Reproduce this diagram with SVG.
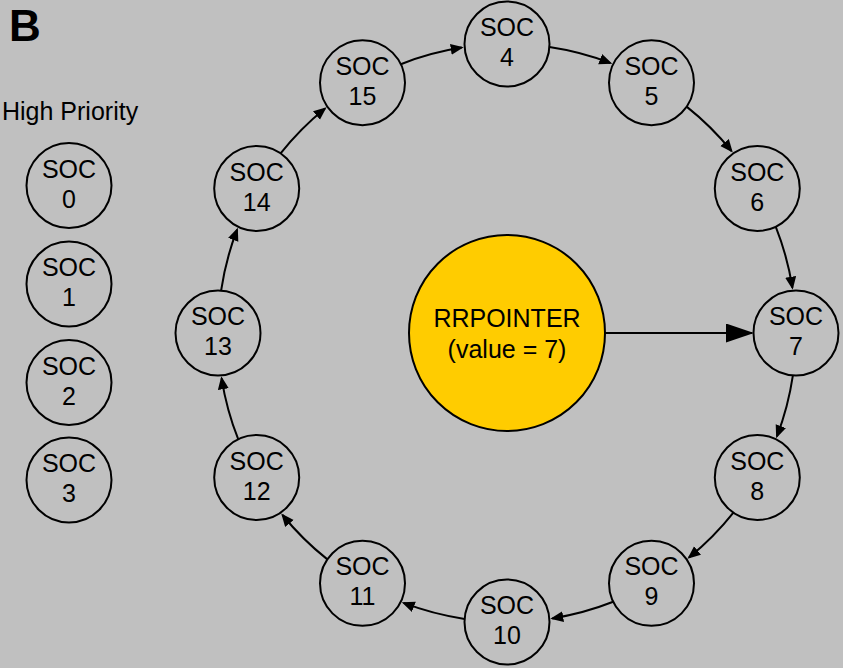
<svg xmlns="http://www.w3.org/2000/svg" width="843" height="668" viewBox="0 0 843 668">
<defs>
<style>
.n{fill:none;stroke:#000;stroke-width:2}
.t{font-family:"Liberation Sans",Arial,sans-serif;font-size:25px;fill:#000;text-anchor:middle}
.c{fill:none;stroke:#000;stroke-width:2;marker-end:url(#ah)}
</style>
<marker id="ah" markerUnits="userSpaceOnUse" markerWidth="14" markerHeight="12" refX="11" refY="5.5" orient="auto"><path d="M0,0 L13,5.5 L0,11 z" fill="#000"/></marker>
<marker id="big" markerUnits="userSpaceOnUse" markerWidth="30" markerHeight="20" refX="26" refY="9.5" orient="auto"><path d="M0,0 L28,9.5 L0,19 z" fill="#000"/></marker>
</defs>
<rect width="843" height="668" fill="#C0C0C0"/>
<text x="9" y="41" style="font-family:'Liberation Sans',Arial,sans-serif;font-size:44px;font-weight:bold" fill="#000">B</text>
<text x="2" y="120" style="font-family:'Liberation Sans',Arial,sans-serif;font-size:25px" fill="#000">High Priority</text>

<g id="connectors">
<path class="c" d="M549.4,47.1 A289,289 0 0 1 610.4,63.1"/>
<path class="c" d="M686.6,106.6 A289,289 0 0 1 731.5,151.0"/>
<path class="c" d="M775.8,226.8 A289,289 0 0 1 792.4,287.7"/>
<path class="c" d="M792.9,375.4 A289,289 0 0 1 776.9,436.4"/>
<path class="c" d="M733.4,512.6 A289,289 0 0 1 689.0,557.5"/>
<path class="c" d="M613.2,601.8 A289,289 0 0 1 552.3,618.4"/>
<path class="c" d="M464.6,618.9 A289,289 0 0 1 403.6,602.9"/>
<path class="c" d="M327.4,559.4 A289,289 0 0 1 282.5,515.0"/>
<path class="c" d="M238.2,439.2 A289,289 0 0 1 221.6,378.3"/>
<path class="c" d="M221.1,290.6 A289,289 0 0 1 237.1,229.6"/>
<path class="c" d="M280.6,153.4 A289,289 0 0 1 325.0,108.5"/>
<path class="c" d="M400.8,64.2 A289,289 0 0 1 461.7,47.6"/>
<line x1="605" y1="333" x2="752" y2="333" stroke="#000" stroke-width="2" marker-end="url(#big)"/>
</g>

<g id="rrpointer">
<circle cx="507" cy="333" r="98" fill="#FFCC00" stroke="#000" stroke-width="2"/>
<text class="t" x="507" y="327">RRPOINTER</text>
<text class="t" x="507" y="358">(value = 7)</text>
</g>

<g id="soc0"><circle class="n" cx="69" cy="185.5" r="42.5"/><text class="t" x="69" y="177.5">SOC</text><text class="t" x="69" y="207.5">0</text></g>
<g id="soc1"><circle class="n" cx="69" cy="284" r="42.5"/><text class="t" x="69" y="276">SOC</text><text class="t" x="69" y="306">1</text></g>
<g id="soc2"><circle class="n" cx="69" cy="382.5" r="42.5"/><text class="t" x="69" y="374.5">SOC</text><text class="t" x="69" y="404.5">2</text></g>
<g id="soc3"><circle class="n" cx="69" cy="480" r="42.5"/><text class="t" x="69" y="472">SOC</text><text class="t" x="69" y="502">3</text></g>

<g id="soc4"><circle class="n" cx="507" cy="44" r="42.5"/><text class="t" x="507" y="36">SOC</text><text class="t" x="507" y="66">4</text></g>
<g id="soc5"><circle class="n" cx="651.5" cy="82.7" r="42.5"/><text class="t" x="651.5" y="74.7">SOC</text><text class="t" x="651.5" y="104.7">5</text></g>
<g id="soc6"><circle class="n" cx="757.3" cy="188.5" r="42.5"/><text class="t" x="757.3" y="180.5">SOC</text><text class="t" x="757.3" y="210.5">6</text></g>
<g id="soc7"><circle class="n" cx="796" cy="333" r="42.5"/><text class="t" x="796" y="325">SOC</text><text class="t" x="796" y="355">7</text></g>
<g id="soc8"><circle class="n" cx="757.3" cy="477.5" r="42.5"/><text class="t" x="757.3" y="469.5">SOC</text><text class="t" x="757.3" y="499.5">8</text></g>
<g id="soc9"><circle class="n" cx="651.5" cy="583.3" r="42.5"/><text class="t" x="651.5" y="575.3">SOC</text><text class="t" x="651.5" y="605.3">9</text></g>
<g id="soc10"><circle class="n" cx="507" cy="622" r="42.5"/><text class="t" x="507" y="614">SOC</text><text class="t" x="507" y="644">10</text></g>
<g id="soc11"><circle class="n" cx="362.5" cy="583.3" r="42.5"/><text class="t" x="362.5" y="575.3">SOC</text><text class="t" x="362.5" y="605.3">11</text></g>
<g id="soc12"><circle class="n" cx="256.7" cy="477.5" r="42.5"/><text class="t" x="256.7" y="469.5">SOC</text><text class="t" x="256.7" y="499.5">12</text></g>
<g id="soc13"><circle class="n" cx="218" cy="333" r="42.5"/><text class="t" x="218" y="325">SOC</text><text class="t" x="218" y="355">13</text></g>
<g id="soc14"><circle class="n" cx="256.7" cy="188.5" r="42.5"/><text class="t" x="256.7" y="180.5">SOC</text><text class="t" x="256.7" y="210.5">14</text></g>
<g id="soc15"><circle class="n" cx="362.5" cy="82.7" r="42.5"/><text class="t" x="362.5" y="74.7">SOC</text><text class="t" x="362.5" y="104.7">15</text></g>
</svg>
